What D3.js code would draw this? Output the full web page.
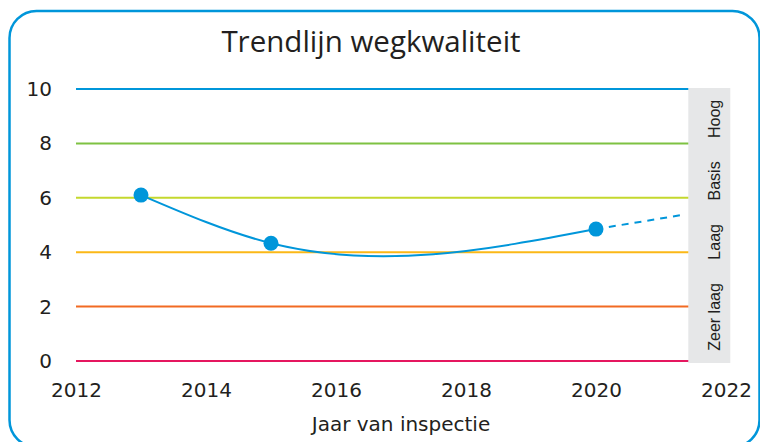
<!DOCTYPE html>
<html>

<head>
    <script src="https://d3js.org/d3.v7.min.js"></script>
    <style>
        body {
            margin: 0;
            background: #fff;
        }

        .tick text {
            font-family: "DejaVu Sans", sans-serif;
            font-size: 20px;
            fill: #231f20;
        }

        .band-label {
            font-family: "Liberation Sans", Arial, sans-serif;
            font-size: 16px;
            fill: #231f20;
        }
    </style>
</head>

<body>
    <svg id="chart" width="760" height="442"></svg>

    <script>
        // inspection results
        var years = [2013, 2015, 2020];
        var scores = [6.1, 4.33, 4.85];

        // dashed projection after last inspection
        var forecastYears = [2020, 2021.33];
        var forecastScores = [4.85, 5.37];

        // quality thresholds
        var levels = [0, 2, 4, 6, 8, 10];
        var levelColors = ["#e5175f", "#f26a22", "#fbb817", "#c4d82e", "#7ec242", "#0096da"];

        // band labels on the grey strip
        var bandNames = ["Hoog", "Basis", "Laag", "Zeer laag"];
        var bandLabelAt = [8.9, 6.62, 4.38, 1.62];

        var xTicks = [2012, 2014, 2016, 2018, 2020, 2022];
        var yTicks = [0, 2, 4, 6, 8, 10];

        var svg = d3.select("#chart");

        // rounded frame
        svg.append("rect")
            .attr("x", 9.5)
            .attr("y", 11)
            .attr("width", 750)
            .attr("height", 436)
            .attr("rx", 27)
            .attr("fill", "none")
            .attr("stroke", "#0096da")
            .attr("stroke-width", 2.5);

        svg.append("text")
            .attr("x", 371)
            .attr("y", 52)
            .attr("text-anchor", "middle")
            .style("font-family", "'Open Sans', sans-serif")
            .style("font-size", "29.5px")
            .style("fill", "#231f20")
            .text("Trendlijn wegkwaliteit");

        var x = d3.scaleLinear().domain([2012, 2022]).range([76, 726]);
        var y = d3.scaleLinear().domain([0, 10]).range([361, 89]);
        var plotEnd = 2021.42;

        // grey strip with level names
        svg.append("rect")
            .attr("x", x(plotEnd))
            .attr("y", y(10) - 1)
            .attr("width", 42)
            .attr("height", y(0) - y(10) + 3)
            .attr("fill", "#e6e7e8");

        svg.selectAll(".band-label")
            .data(bandNames)
            .enter().append("text")
            .attr("class", "band-label")
            .attr("transform", function (d, i) {
                return "translate(" + (x(plotEnd) + 32) + "," + y(bandLabelAt[i]) + ") rotate(-90)";
            })
            .attr("text-anchor", "middle")
            .text(function (d) { return d; });

        // threshold lines
        svg.selectAll(".level")
            .data(levels)
            .enter().append("line")
            .attr("class", "level")
            .attr("x1", x(2012))
            .attr("x2", x(plotEnd))
            .attr("y1", function (d) { return y(d); })
            .attr("y2", function (d) { return y(d); })
            .attr("stroke", function (d, i) { return levelColors[i]; })
            .attr("stroke-width", 2);

        // axes (text only)
        var xAxis = svg.append("g")
            .attr("transform", "translate(0," + 380 + ")")
            .call(d3.axisBottom(x).tickValues(xTicks).tickFormat(d3.format("d")).tickSize(0));
        xAxis.select(".domain").remove();

        var yAxis = svg.append("g")
            .attr("transform", "translate(" + 55 + ",0)")
            .call(d3.axisLeft(y).tickValues(yTicks).tickSize(0));
        yAxis.select(".domain").remove();

        svg.append("text")
            .attr("x", 401)
            .attr("y", 431)
            .attr("text-anchor", "middle")
            .style("font-family", "'DejaVu Sans', sans-serif")
            .style("font-size", "20px")
            .style("fill", "#231f20")
            .text("Jaar van inspectie");

        // natural cubic spline through the points, spaced by x
        function naturalX(pts) {
            var n = pts.length, h = [], s = [], M = new Array(n).fill(0);
            for (var i = 0; i < n - 1; i++) {
                h.push(pts[i + 1][0] - pts[i][0]);
                s.push((pts[i + 1][1] - pts[i][1]) / h[i]);
            }
            // tridiagonal solve for inner second derivatives
            var a = [], b = [], c = [], r = [];
            for (i = 1; i < n - 1; i++) {
                a.push(h[i - 1]); b.push(2 * (h[i - 1] + h[i])); c.push(h[i]);
                r.push(6 * (s[i] - s[i - 1]));
            }
            var m = b.length;
            for (i = 1; i < m; i++) {
                var w = a[i] / b[i - 1];
                b[i] -= w * c[i - 1];
                r[i] -= w * r[i - 1];
            }
            for (i = m - 1; i >= 0; i--) {
                M[i + 1] = (r[i] - (i < m - 1 ? c[i] * M[i + 2] : 0)) / b[i];
            }
            var p = d3.path();
            p.moveTo(pts[0][0], pts[0][1]);
            for (i = 0; i < n - 1; i++) {
                var d0 = s[i] - h[i] * (2 * M[i] + M[i + 1]) / 6;
                var d1 = s[i] + h[i] * (M[i] + 2 * M[i + 1]) / 6;
                p.bezierCurveTo(
                    pts[i][0] + h[i] / 3, pts[i][1] + d0 * h[i] / 3,
                    pts[i + 1][0] - h[i] / 3, pts[i + 1][1] - d1 * h[i] / 3,
                    pts[i + 1][0], pts[i + 1][1]);
            }
            return p.toString();
        }

        // trend line
        var points = years.map(function (d, i) { return [x(d), y(scores[i])]; });

        svg.append("path")
            .attr("d", naturalX(points))
            .attr("fill", "none")
            .attr("stroke", "#0096da")
            .attr("stroke-width", 2);

        var fpoints = forecastYears.map(function (d, i) { return [x(d), y(forecastScores[i])]; });
        svg.append("path")
            .attr("d", d3.line()(fpoints))
            .attr("fill", "none")
            .attr("stroke", "#0096da")
            .attr("stroke-width", 2)
            .attr("stroke-dasharray", "7,6");

        svg.selectAll(".dot")
            .data(points)
            .enter().append("circle")
            .attr("class", "dot")
            .attr("cx", function (d) { return d[0]; })
            .attr("cy", function (d) { return d[1]; })
            .attr("r", 7.5)
            .attr("fill", "#0096da");
    </script>
</body>

</html>
